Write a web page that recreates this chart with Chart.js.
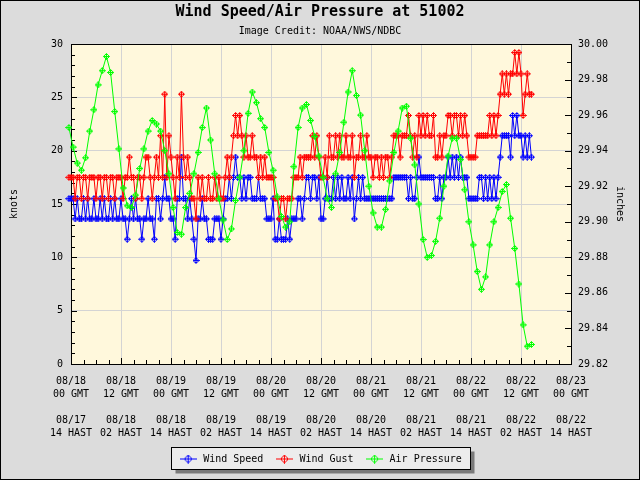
<!DOCTYPE html>
<html>
<head>
<meta charset="utf-8">
<script src="https://cdn.jsdelivr.net/npm/chart.js@4.4.1/dist/chart.umd.min.js"></script>
<style>
  html, body { margin: 0; padding: 0; background: #dcdcdc; }
  canvas { display: block; }
</style>
</head>
<body>
<canvas id="windChart" width="640" height="480"></canvas>
<script>
'use strict'
// times are hours after 08/18 00 GMT
var windStartHour = -0.5;
var windStepHours = 0.5;

var windSpeed = [
    15.5,15.5,15.5,13.6,15.5,13.6,13.6,15.5,13.6,15.5,13.6,13.6,
    15.5,13.6,13.6,15.5,13.6,15.5,13.6,13.6,15.5,13.6,15.5,13.6,
    13.6,15.5,13.6,13.6,11.7,13.6,15.5,13.6,15.5,13.6,13.6,11.7,
    13.6,13.6,15.5,13.6,13.6,11.7,15.5,15.5,13.6,15.5,17.5,15.5,
    15.5,13.6,13.6,11.7,15.5,15.5,19.4,15.5,15.5,13.6,15.5,13.6,
    11.7,9.7,13.6,13.6,15.5,13.6,13.6,11.7,11.7,11.7,13.6,13.6,
    13.6,11.7,13.6,15.5,15.5,17.5,15.5,17.5,19.4,17.5,17.5,15.5,
    17.5,15.5,17.5,17.5,15.5,15.5,15.5,17.5,15.5,15.5,15.5,13.6,
    13.6,13.6,15.5,11.7,11.7,13.6,11.7,11.7,11.7,13.6,11.7,13.6,
    13.6,13.6,15.5,15.5,13.6,15.5,17.5,17.5,15.5,17.5,17.5,15.5,
    17.5,13.6,13.6,15.5,17.5,15.5,15.5,17.5,15.5,17.5,15.5,17.5,
    15.5,15.5,17.5,15.5,17.5,13.6,15.5,17.5,15.5,17.5,15.5,15.5,
    15.5,15.5,15.5,15.5,15.5,15.5,15.5,15.5,15.5,15.5,15.5,15.5,
    17.5,17.5,17.5,17.5,17.5,17.5,17.5,15.5,17.5,15.5,15.5,17.5,
    19.4,17.5,17.5,17.5,17.5,17.5,17.5,17.5,15.5,15.5,17.5,15.5,
    17.5,17.5,19.4,17.5,19.4,17.5,19.4,17.5,19.4,17.5,17.5,17.5,
    15.5,15.5,15.5,15.5,15.5,17.5,17.5,15.5,17.5,15.5,17.5,15.5,
    17.5,15.5,17.5,19.4,21.4,21.4,21.4,21.4,19.4,23.3,21.4,23.3,
    21.4,21.4,19.4,21.4,19.4,21.4,19.4
];

var windGust = [
    17.5,17.5,17.5,15.5,17.5,17.5,15.5,17.5,17.5,15.5,17.5,17.5,
    17.5,15.5,17.5,17.5,15.5,17.5,17.5,15.5,17.5,17.5,15.5,17.5,
    17.5,17.5,15.5,17.5,17.5,19.4,17.5,17.5,15.5,17.5,17.5,15.5,
    17.5,19.4,19.4,17.5,15.5,17.5,19.4,17.5,21.4,17.5,25.3,17.5,
    21.4,19.4,17.5,15.5,19.4,17.5,25.3,19.4,17.5,19.4,17.5,15.5,
    15.5,13.6,17.5,15.5,17.5,15.5,15.5,17.5,15.5,15.5,17.5,15.5,
    17.5,15.5,15.5,17.5,19.4,17.5,19.4,21.4,23.3,21.4,23.3,21.4,
    19.4,21.4,19.4,19.4,21.4,19.4,19.4,17.5,19.4,17.5,19.4,17.5,
    17.5,17.5,17.5,15.5,15.5,13.6,15.5,15.5,13.6,15.5,15.5,15.5,
    17.5,17.5,17.5,19.4,17.5,19.4,19.4,19.4,19.4,21.4,19.4,21.4,
    19.4,17.5,17.5,19.4,17.5,21.4,19.4,19.4,21.4,19.4,21.4,19.4,
    19.4,21.4,19.4,19.4,21.4,17.5,19.4,19.4,21.4,19.4,19.4,21.4,
    19.4,19.4,17.5,19.4,19.4,17.5,19.4,17.5,19.4,19.4,17.5,19.4,
    21.4,21.4,21.4,19.4,21.4,21.4,21.4,23.3,21.4,19.4,21.4,19.4,
    23.3,21.4,23.3,21.4,23.3,21.4,21.4,23.3,19.4,19.4,21.4,19.4,
    21.4,21.4,23.3,23.3,21.4,23.3,23.3,21.4,23.3,21.4,23.3,21.4,
    19.4,19.4,19.4,19.4,21.4,21.4,21.4,21.4,21.4,21.4,23.3,21.4,
    23.3,21.4,23.3,25.3,27.2,25.3,27.2,25.3,27.2,27.2,29.2,27.2,
    29.2,27.2,23.3,25.3,27.2,25.3,25.3
];

var pressureStartHour = -0.5;
var pressureStepHours = 1;

var airPressure = [
    29.953,29.942,29.933,29.929,29.936,29.951,29.963,29.977,29.985,29.993,29.984,29.962,
    29.941,29.919,29.909,29.908,29.915,29.930,29.941,29.951,29.957,29.955,29.951,29.940,
    29.927,29.908,29.894,29.893,29.908,29.916,29.927,29.939,29.953,29.964,29.946,29.927,
    29.913,29.901,29.890,29.896,29.912,29.925,29.940,29.961,29.973,29.967,29.958,29.953,
    29.939,29.929,29.914,29.903,29.897,29.900,29.931,29.953,29.964,29.966,29.957,29.948,
    29.937,29.925,29.913,29.908,29.927,29.939,29.956,29.973,29.985,29.971,29.960,29.940,
    29.920,29.905,29.897,29.897,29.907,29.923,29.939,29.951,29.964,29.965,29.947,29.932,
    29.910,29.890,29.880,29.881,29.889,29.902,29.920,29.937,29.947,29.947,29.935,29.918,
    29.900,29.887,29.872,29.862,29.869,29.887,29.900,29.908,29.917,29.921,29.902,29.885,
    29.865,29.842,29.830,29.831
];

var gmtDates  = ['08/18','08/18','08/19','08/19','08/20','08/20','08/21','08/21','08/22','08/22','08/23'];
var gmtTimes  = ['00 GMT','12 GMT','00 GMT','12 GMT','00 GMT','12 GMT','00 GMT','12 GMT','00 GMT','12 GMT','00 GMT'];
var hastDates = ['08/17','08/18','08/18','08/19','08/19','08/20','08/20','08/21','08/21','08/22','08/22'];
var hastTimes = ['14 HAST','02 HAST','14 HAST','02 HAST','14 HAST','02 HAST','14 HAST','02 HAST','14 HAST','02 HAST','14 HAST'];

var monoFont = "'DejaVu Sans Mono', monospace";
var gridColor = '#d4d4d4';

function toPoints(values, start, step) {
    return values.map(function (v, i) { return { x: start + i * step, y: v }; });
}

function drawDiamond(g, cx, cy, r, color) {
    g.strokeStyle = color;
    g.lineWidth = 1;
    g.beginPath();
    g.moveTo(cx, cy - r);
    g.lineTo(cx + r, cy);
    g.lineTo(cx, cy + r);
    g.lineTo(cx - r, cy);
    g.closePath();
    g.moveTo(cx, cy - r);
    g.lineTo(cx, cy + r);
    g.moveTo(cx - r, cy);
    g.lineTo(cx + r, cy);
    g.stroke();
}

function makeMarker(color) {
    var c = document.createElement('canvas');
    c.width = 7; c.height = 7;
    drawDiamond(c.getContext('2d'), 3.5, 3.5, 3, color);
    return c;
}

function makeLegendIcon(color) {
    var c = document.createElement('canvas');
    c.width = 17; c.height = 9;
    var g = c.getContext('2d');
    g.strokeStyle = color;
    g.beginPath();
    g.moveTo(0, 4.5);
    g.lineTo(17, 4.5);
    g.stroke();
    drawDiamond(g, 8.5, 4.5, 4, color);
    return c;
}

var seriesColors = ['#0000ff', '#ff0000', '#00ff00'];
var legendIcons = seriesColors.map(makeLegendIcon);

var chartBackground = {
    id: 'chartBackground',
    beforeDraw: function (chart) {
        var ctx = chart.ctx, a = chart.chartArea;
        ctx.save();
        ctx.fillStyle = '#dcdcdc';
        ctx.fillRect(0, 0, chart.width, chart.height);
        ctx.strokeStyle = '#000';
        ctx.lineWidth = 1;
        ctx.strokeRect(0.5, 0.5, chart.width - 1, chart.height - 1);
        ctx.fillStyle = '#fff8dc';
        ctx.fillRect(a.left, a.top, a.right - a.left, a.bottom - a.top);

        // legend frame with shadow
        var boxes = chart.legend.legendHitBoxes;
        if (boxes && boxes.length) {
            var first = boxes[0], last = boxes[boxes.length - 1];
            var lx = Math.round(first.left) - 6.5;
            var rx = Math.round(last.left + last.width) + 8.5;
            var cy = Math.round(first.top + first.height / 2);
            var ty = cy - 11.5, h = 22;
            ctx.fillStyle = '#7a7a7a';
            ctx.fillRect(lx + 4, ty + 4, rx - lx, h);
            ctx.fillStyle = '#ececec';
            ctx.fillRect(lx, ty, rx - lx, h);
            ctx.strokeRect(lx, ty, rx - lx, h);
        }
        ctx.restore();
    }
};

var innerTicks = {
    id: 'innerTicks',
    beforeDatasetsDraw: function (chart) {
        var ctx = chart.ctx, a = chart.chartArea;
        var xs = chart.scales.x, ys = chart.scales.y, ps = chart.scales.y1;
        ctx.save();
        ctx.strokeStyle = '#000';
        ctx.lineWidth = 1;
        ctx.beginPath();
        var h, k, i, px, len;
        for (h = 0; h <= 120; h += 3) {
            px = Math.round(xs.getPixelForValue(h)) + 0.5;
            len = (h % 12 === 0) ? 6 : 4;
            ctx.moveTo(px, a.bottom);
            ctx.lineTo(px, a.bottom - len);
        }
        for (k = 0; k <= 30; k++) {
            px = Math.round(ys.getPixelForValue(k)) + 0.5;
            len = (k % 5 === 0) ? 6 : 4;
            ctx.moveTo(a.left, px);
            ctx.lineTo(a.left + len, px);
        }
        for (i = 0; i <= 18; i++) {
            px = Math.round(ps.getPixelForValue(29.82 + i * 0.01)) + 0.5;
            len = (i % 2 === 0) ? 6 : 4;
            ctx.moveTo(a.right, px);
            ctx.lineTo(a.right - len, px);
        }
        ctx.stroke();
        ctx.strokeRect(Math.round(a.left) + 0.5, Math.round(a.top) + 0.5,
            Math.round(a.right - a.left), Math.round(a.bottom - a.top));
        ctx.restore();
    }
};

Chart.defaults.font.family = monoFont;
Chart.defaults.font.size = 10;
Chart.defaults.color = '#000';

var windChart = new Chart(document.getElementById('windChart'), {
    type: 'line',
    data: {
        datasets: [{
            label: 'Wind Speed',
            data: toPoints(windSpeed, windStartHour, windStepHours),
            borderColor: seriesColors[0],
            backgroundColor: seriesColors[0],
            pointStyle: makeMarker(seriesColors[0]),
            yAxisID: 'y',
            order: 3
        }, {
            label: 'Wind Gust',
            data: toPoints(windGust, windStartHour, windStepHours),
            borderColor: seriesColors[1],
            backgroundColor: seriesColors[1],
            pointStyle: makeMarker(seriesColors[1]),
            yAxisID: 'y',
            order: 2
        }, {
            label: 'Air Pressure',
            data: toPoints(airPressure, pressureStartHour, pressureStepHours),
            borderColor: seriesColors[2],
            backgroundColor: seriesColors[2],
            pointStyle: makeMarker(seriesColors[2]),
            yAxisID: 'y1',
            order: 1
        }]
    },
    options: {
        responsive: false,
        animation: false,
        events: [],
        layout: { padding: { bottom: 6 } },
        elements: {
            line: { borderWidth: 1, tension: 0 },
            point: { radius: 3.5, hoverRadius: 3.5 }
        },
        datasets: { line: { clip: false } },
        scales: {
            x: {
                type: 'linear',
                min: 0,
                max: 120,
                afterFit: function (scale) { scale.height = 79; },
                grid: { color: gridColor, drawTicks: false },
                border: { display: false },
                ticks: {
                    stepSize: 12,
                    padding: 11,
                    autoSkip: false,
                    maxRotation: 0,
                    font: { size: 10, lineHeight: 1.3 },
                    callback: function (value) {
                        var i = Math.round(value / 12);
                        return [gmtDates[i], gmtTimes[i], '', hastDates[i], hastTimes[i]];
                    }
                }
            },
            y: {
                position: 'left',
                min: 0,
                max: 30,
                afterFit: function (scale) { scale.width = 71; },
                grid: { color: gridColor, drawTicks: false },
                border: { display: false },
                ticks: { stepSize: 5, padding: 8 },
                title: { display: true, text: 'knots', padding: { top: 8, bottom: 0 } }
            },
            y1: {
                position: 'right',
                min: 29.82,
                max: 30.00,
                afterFit: function (scale) { scale.width = 69; },
                grid: { drawOnChartArea: false, drawTicks: false },
                border: { display: false },
                ticks: {
                    stepSize: 0.02,
                    padding: 7,
                    callback: function (value) { return value.toFixed(2); }
                },
                title: { display: true, text: 'inches', padding: { top: 14, bottom: 0 } }
            }
        },
        plugins: {
            title: {
                display: true,
                text: 'Wind Speed/Air Pressure at 51002',
                color: '#000',
                font: { size: 15, weight: 'bold', lineHeight: 1.2 },
                padding: { top: 3, bottom: 0 }
            },
            subtitle: {
                display: true,
                text: 'Image Credit: NOAA/NWS/NDBC',
                color: '#000',
                font: { size: 10, lineHeight: 1.2 },
                padding: { top: 4, bottom: 7 }
            },
            legend: {
                position: 'bottom',
                labels: {
                    usePointStyle: true,
                    pointStyleWidth: 20,
                    padding: 11,
                    font: { size: 10 },
                    color: '#000',
                    sort: function (a, b) { return a.datasetIndex - b.datasetIndex; },
                    generateLabels: function (chart) {
                        var items = Chart.defaults.plugins.legend.labels.generateLabels(chart);
                        items.forEach(function (item) {
                            item.pointStyle = legendIcons[item.datasetIndex];
                        });
                        return items;
                    }
                }
            },
            tooltip: { enabled: false }
        }
    },
    plugins: [chartBackground, innerTicks]
});
</script>
</body>
</html>
